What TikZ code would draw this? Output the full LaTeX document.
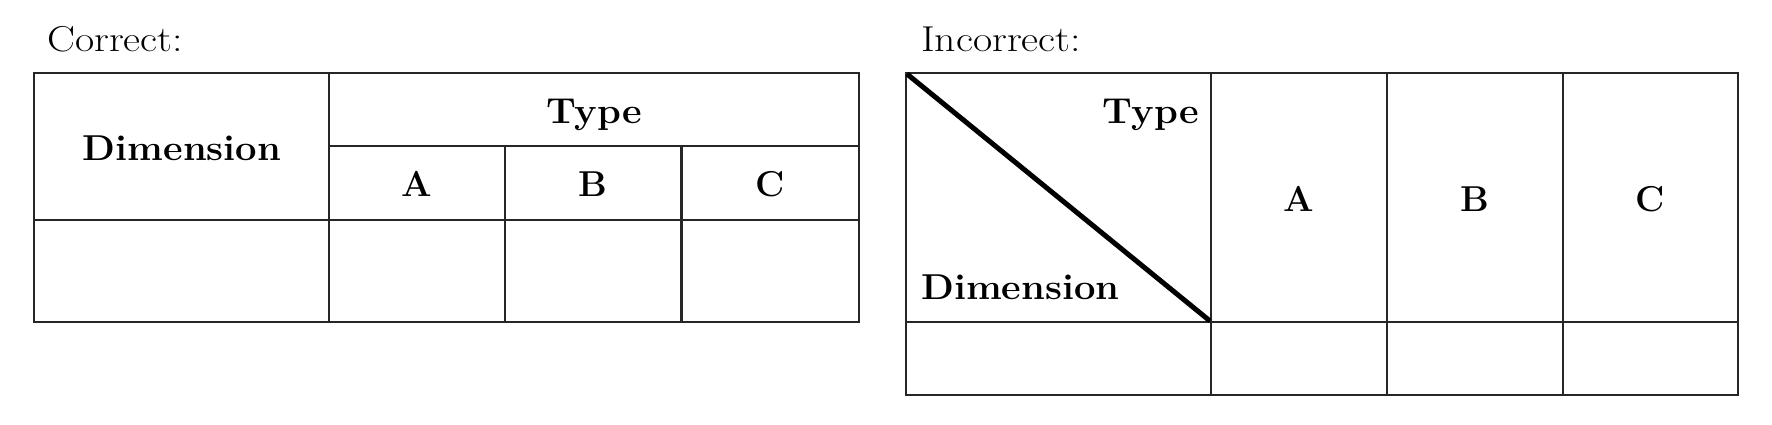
\documentclass[tikz,border=0pt]{standalone}
\newcommand{\wideR}[1]{\scalebox{1.16}[1]{#1}}
\newcommand{\wideB}[1]{\scalebox{1.06}[1]{#1}}
\begin{document}
\begin{tikzpicture}[x=1pt,y=-1pt,
  grid/.style={draw=black!85,line width=2.6pt},
  diag/.style={draw=black,line width=5pt},
  lbl/.style={font=\fontsize{36}{40}\selectfont,inner sep=0pt},
  hdr/.style={font=\fontsize{36}{40}\selectfont\bfseries,inner sep=0pt}]
\useasboundingbox (0,0) rectangle (1772,425);
% ---- left table (correct) ----
\draw[grid] (34,73) rectangle (859,322);
\draw[grid] (329,73) -- (329,322);
\draw[grid] (505,146) -- (505,322);
\draw[grid] (681.5,146) -- (681.5,322);
\draw[grid] (329,146) -- (859,146);
\draw[grid] (34,220) -- (859,220);
\node[lbl,anchor=base west] (correct) at (47,51.7) {\wideR{Correct:}};
\node[hdr,anchor=base] (ldim) at (182,160.7) {\wideB{Dimension}};
\node[hdr,anchor=base] (ltype) at (594,124) {\wideB{Type}};
\node[hdr,anchor=base] (la) at (417,196.7) {A};
\node[hdr,anchor=base] (lb) at (593,196.7) {B};
\node[hdr,anchor=base] (lc) at (770,196.7) {C};
% ---- right table (incorrect) ----
\draw[grid] (906,73) rectangle (1738,395);
\draw[grid] (1211,73) -- (1211,395);
\draw[grid] (1387,73) -- (1387,395);
\draw[grid] (1563,73) -- (1563,395);
\draw[grid] (906,322) -- (1738,322);
\coordinate (dtl) at (907,74);
\coordinate (dbr) at (1210,321);
\draw[diag] (dtl) -- (dbr);
\node[lbl,anchor=base west] (incorrect) at (921,51.7) {\wideR{Incorrect:}};
\node[hdr,anchor=base east] (rtype) at (1199,124) {\wideB{Type}};
\node[hdr,anchor=base west] (rdim) at (921,299) {\wideB{Dimension}};
\node[hdr,anchor=base] (ra) at (1299,211.7) {A};
\node[hdr,anchor=base] (rb) at (1475,211.7) {B};
\node[hdr,anchor=base] (rc) at (1650.5,211.7) {C};
\end{tikzpicture}
\end{document}
